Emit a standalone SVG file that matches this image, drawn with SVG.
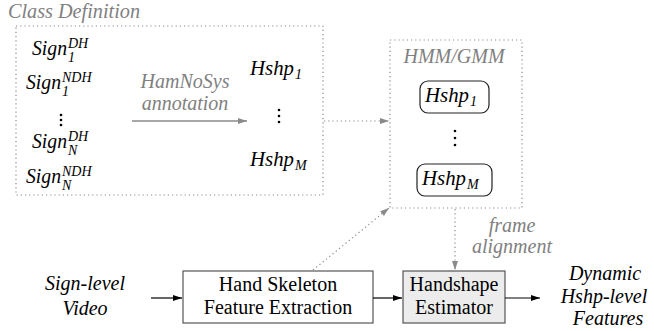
<svg xmlns="http://www.w3.org/2000/svg" width="654" height="331" viewBox="0 0 654 331" font-family="Liberation Serif, DejaVu Serif, serif">
<style>
.math{font-style:italic;font-size:20px;fill:#000}
.sub{font-size:14px}
.gl{font-style:italic;font-size:20px;fill:#808080}
.lbl{font-size:20px;fill:#000}
.it{font-style:italic;font-size:20px;fill:#000}
.dot{fill:none;stroke:#8a8a8a;stroke-width:1.2;stroke-dasharray:1.2 3}
.box{stroke:#555;stroke-width:1.2}
.solid{stroke:#000;stroke-width:1.2;fill:none}
.gsolid{stroke:#8a8a8a;stroke-width:1.5;fill:none}
</style>
<defs>
<marker id="ab" markerWidth="10" markerHeight="8" refX="9" refY="4" orient="auto" markerUnits="userSpaceOnUse"><path d="M0,1 L9,4 L0,7 z" fill="#000"/></marker>
<marker id="ag" markerWidth="10" markerHeight="8" refX="9" refY="4" orient="auto" markerUnits="userSpaceOnUse"><path d="M0,1 L9,4 L0,7 z" fill="#8a8a8a"/></marker>
</defs>

<g id="class-definition">
<text class="gl" x="8" y="18" textLength="132" lengthAdjust="spacingAndGlyphs">Class Definition</text>
<rect class="dot" x="16" y="26" width="307" height="169"/>
<text class="math" x="32" y="55" textLength="35" lengthAdjust="spacingAndGlyphs">Sign</text><text class="math sub" x="68" y="48">DH</text><text class="math sub" x="68" y="62">1</text>
<text class="math" x="26" y="89" textLength="35" lengthAdjust="spacingAndGlyphs">Sign</text><text class="math sub" x="62" y="82">NDH</text><text class="math sub" x="62" y="96">1</text>
<g fill="#000"><circle cx="61" cy="115" r="1.3"/><circle cx="61" cy="120" r="1.3"/><circle cx="61" cy="125" r="1.3"/></g>
<text class="math" x="32" y="148" textLength="35" lengthAdjust="spacingAndGlyphs">Sign</text><text class="math sub" x="68" y="141">DH</text><text class="math sub" x="68" y="155">N</text>
<text class="math" x="26" y="183" textLength="35" lengthAdjust="spacingAndGlyphs">Sign</text><text class="math sub" x="62" y="176">NDH</text><text class="math sub" x="62" y="190">N</text>
<text class="gl" x="185" y="88" text-anchor="middle">HamNoSys</text>
<text class="gl" x="185" y="110" text-anchor="middle">annotation</text>
<text class="math" x="250" y="75" textLength="44" lengthAdjust="spacingAndGlyphs">Hshp</text><text class="math sub" x="295" y="79">1</text>
<g fill="#000"><circle cx="279" cy="110" r="1.3"/><circle cx="279" cy="116" r="1.3"/><circle cx="279" cy="122" r="1.3"/></g>
<text class="math" x="250" y="166" textLength="44" lengthAdjust="spacingAndGlyphs">Hshp</text><text class="math sub" x="295" y="170">M</text>
</g>

<g id="hmm-gmm">
<rect class="dot" x="390" y="40" width="132" height="168"/>
<text class="gl" x="454" y="63" text-anchor="middle">HMM/GMM</text>
<rect x="420" y="81" width="69" height="32" rx="8" fill="#fff" stroke="#222" stroke-width="1.2"/>
<text class="math" x="425" y="102" textLength="44" lengthAdjust="spacingAndGlyphs">Hshp</text><text class="math sub" x="470" y="106">1</text>
<g fill="#000"><circle cx="455" cy="131" r="1.3"/><circle cx="455" cy="138" r="1.3"/><circle cx="455" cy="145" r="1.3"/></g>
<rect x="417" y="164" width="75" height="32" rx="8" fill="#fff" stroke="#222" stroke-width="1.2"/>
<text class="math" x="422" y="185" textLength="44" lengthAdjust="spacingAndGlyphs">Hshp</text><text class="math sub" x="467" y="189">M</text>
</g>

<g id="sign-level-video">
<text class="it" x="85" y="290" text-anchor="middle">Sign-level</text>
<text class="it" x="85" y="315" text-anchor="middle">Video</text>
</g>

<g id="hand-skeleton">
<rect class="box" x="183" y="271" width="190" height="52" fill="#fff"/>
<text class="lbl" x="278" y="291" text-anchor="middle">Hand Skeleton</text>
<text class="lbl" x="278" y="314" text-anchor="middle">Feature Extraction</text>
</g>

<g id="handshape-estimator">
<rect class="box" x="403" y="271" width="102" height="52" fill="#ececec"/>
<text class="lbl" x="454" y="291" text-anchor="middle">Handshape</text>
<text class="lbl" x="454" y="314" text-anchor="middle">Estimator</text>
</g>

<g id="output">
<text class="it" x="605" y="280" text-anchor="middle">Dynamic</text>
<text class="it" x="604" y="303" text-anchor="middle">Hshp-level</text>
<text class="it" x="608" y="325" text-anchor="middle">Features</text>
</g>

<g id="connectors">
<line class="gsolid" x1="132" y1="121" x2="247" y2="121" marker-end="url(#ag)"/>
<line class="dot" x1="324" y1="121" x2="389" y2="121" marker-end="url(#ag)"/>
<line class="dot" x1="313" y1="270" x2="389" y2="208" marker-end="url(#ag)"/>
<line class="dot" x1="455" y1="209" x2="455" y2="270" marker-end="url(#ag)"/>
<text class="gl" x="512" y="232" text-anchor="middle">frame</text>
<text class="gl" x="512" y="253" text-anchor="middle">alignment</text>
<line class="solid" x1="151" y1="298" x2="182" y2="298" marker-end="url(#ab)"/>
<line class="solid" x1="373" y1="298" x2="402" y2="298" marker-end="url(#ab)"/>
<line class="solid" x1="505" y1="298" x2="540" y2="298" marker-end="url(#ab)"/>
</g>
</svg>
